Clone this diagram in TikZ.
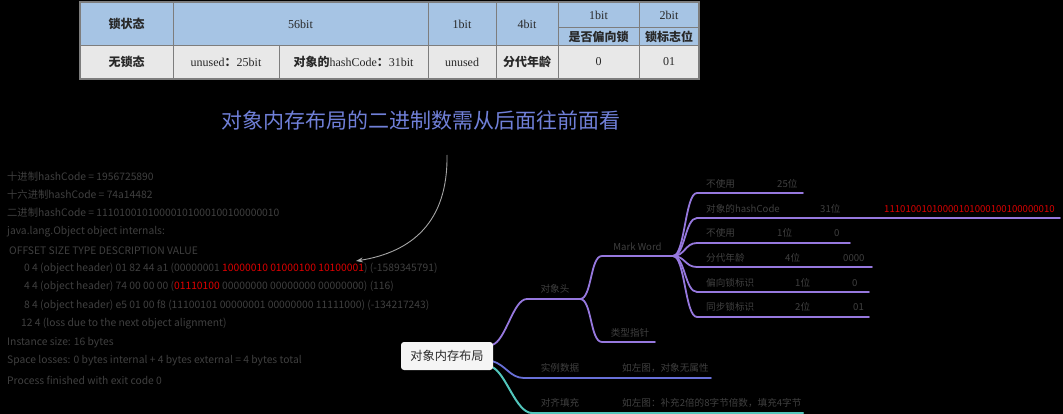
\documentclass[tikz,border=0pt]{standalone}
\usepackage{fontspec}
\setmainfont{Noto Sans CJK SC}
\newfontfamily\tser{Liberation Serif}
\usetikzlibrary{arrows.meta}
\definecolor{hdr}{RGB}{166,196,228}
\definecolor{rowbg}{RGB}{232,232,232}
\definecolor{tline}{RGB}{125,125,125}
\definecolor{ttext}{RGB}{40,40,40}
\definecolor{dimtext}{RGB}{64,64,64}
\definecolor{redt}{RGB}{222,0,0}
\definecolor{titleblue}{RGB}{112,128,216}
\definecolor{lilac}{RGB}{150,120,222}
\definecolor{bluebr}{RGB}{104,112,216}
\definecolor{tealbr}{RGB}{82,198,188}
\definecolor{arrowgray}{RGB}{165,165,165}
\tikzset{
  thd/.style={inner sep=0pt, text=ttext, font=\fontsize{12}{12}\selectfont\bfseries},
  tser/.style={inner sep=0pt, text=ttext, font=\fontsize{12}{12}\selectfont\tser},
  lt/.style={inner sep=0pt, anchor=west, text=dimtext, font=\fontsize{10.3}{11}\selectfont},
  ml/.style={inner sep=0pt, text=dimtext, font=\fontsize{9.6}{10}\selectfont},
  mlw/.style={ml, anchor=west},
  brl/.style={line width=1.8pt, lilac, line cap=round},
  brb/.style={line width=1.8pt, bluebr, line cap=round},
  brt/.style={line width=2pt, tealbr, line cap=round},
}
\begin{document}
\begin{tikzpicture}[x=1pt,y=-1pt]
\fill[black] (0,0) rectangle (1063,414);
\useasboundingbox (0,0) rectangle (1063,414);
% ---------- table ----------
\fill[hdr] (80,2) rectangle (699,45);
\fill[rowbg] (80,45) rectangle (699,79);
\draw[tline, line width=0.8pt] (80,45) -- (699,45);
\draw[tline, line width=0.8pt] (558,27) -- (699,27);
\foreach \xx in {173,428,496,558,639} \draw[tline, line width=0.8pt] (\xx,2) -- (\xx,79);
\draw[tline, line width=0.8pt] (279,45) -- (279,79);
\draw[tline, line width=1.4pt] (80,2) rectangle (699,79);
\node[thd] (h1) at (126.5,24) {锁状态};
\node[tser] (h2) at (300.5,24) {56bit};
\node[tser] (h3) at (462,24) {1bit};
\node[tser] (h4) at (527,24) {4bit};
\node[tser] (h5) at (598.5,15) {1bit};
\node[tser] (h6) at (669,15) {2bit};
\node[thd] (h7) at (598.5,36.5) {是否偏向锁};
\node[thd] (h8) at (669,36.5) {锁标志位};
\node[thd] (d1) at (126.5,62) {无锁态};
\node[tser] (d2) at (226,62) {unused{\normalfont\bfseries ：}25bit};
\node[tser] (d3) at (353.5,62) {{\normalfont\bfseries 对象的}hashCode{\normalfont\bfseries ：}31bit};
\node[tser] (d4) at (462,62) {unused};
\node[thd] (d5) at (527,62) {分代年龄};
\node[tser] (d6) at (598.5,62) {0};
\node[tser] (d7) at (669,62) {01};
% ---------- title ----------
\node[inner sep=0pt, text=titleblue, font=\fontsize{21}{22}\selectfont] (title) at (421,121) {对象内存布局的二进制数需从后面往前面看};
% ---------- left text ----------
\node[lt] (l1) at (7,177) {十进制hashCode = 1956725890};
\node[lt] (l2) at (7,195) {十六进制hashCode = 74a14482};
\node[lt] (l3) at (7,213) {二进制hashCode = 11101001010000101000100100000010};
\node[lt] (l4) at (7,232) {java.lang.Object object internals:};
\node[lt] (l5) at (9,251) {OFFSET SIZE TYPE DESCRIPTION VALUE};
\node[lt] (l6) at (24,269) {0 4 (object header) 01 82 44 a1 (00000001 \textcolor{redt}{10000010 01000100 10100001}) (-1589345791)};
\node[lt] (l7) at (24,287) {4 4 (object header) 74 00 00 00 (\textcolor{redt}{01110100} 00000000 00000000 00000000) (116)};
\node[lt] (l8) at (24,306) {8 4 (object header) e5 01 00 f8 (11100101 00000001 00000000 11111000) (-134217243)};
\node[lt] (l9) at (21,324) {12 4 (loss due to the next object alignment)};
\node[lt] (l10) at (7,343) {Instance size: 16 bytes};
\node[lt] (l11) at (7,361) {Space losses: 0 bytes internal + 4 bytes external = 4 bytes total};
\node[lt] (l12) at (7,380) {Process finished with exit code 0};
% ---------- arrow ----------
\coordinate (arS) at (447,155);
\coordinate (arE) at (356,261);
\draw[arrowgray, line width=0.9pt, -{Stealth[length=7pt,width=5pt]}] (arS) .. controls (448,222) and (412,252) .. (arE);
% ---------- mind map ----------
\coordinate (r1) at (492,345);
\coordinate (r2) at (492,361);
\coordinate (r3) at (492,367);
\coordinate (oh1) at (527,299);
\coordinate (oh2) at (580,299);
\coordinate (mw1) at (602,256);
\coordinate (mw2) at (673,256);
\coordinate (tp1) at (602,342);
\coordinate (tp2) at (655,342);
\coordinate (sl1) at (524,378);
\coordinate (sl2) at (711,378);
\coordinate (dq1) at (532,413);
\coordinate (dq2) at (803,413);
\draw[brl] (r1) .. controls +(14,-4) and +(-14,0) .. (oh1) -- (oh2);
\draw[brl] (oh2) .. controls +(12,0) and +(-12,0) .. (mw1) -- (mw2);
\draw[brl] (oh2) .. controls +(12,0) and +(-12,0) .. (tp1) -- (tp2);
\draw[brb] (r2) .. controls +(14,4) and +(-14,0) .. (sl1) -- (sl2);
\draw[brt] (r3) .. controls +(14,6) and +(-16,0) .. (dq1) -- (dq2);
% Mark Word children
\foreach \i/\yy/\xe in {1/193/803, 2/218/1060, 3/243/850, 4/267/872, 5/292/869, 6/317/869} {
  \coordinate (c\i s) at (697,\yy);
  \coordinate (c\i e) at (\xe,\yy);
  \draw[brl] (mw2) .. controls +(12,0) and +(-12,0) .. (c\i s) -- (c\i e);
}
\node[draw=none, fill=white!96!black, rounded corners=3pt, minimum width=92pt, minimum height=28pt, inner sep=0pt, text=ttext, font=\fontsize{12.2}{13}\selectfont] (root) at (447,356) {对象内存布局};
\node[ml] (oh) at (555,289) {对象头};
\node[ml] (mw) at (637.5,246.5) {Mark Word};
\node[ml] (tp) at (630,333) {类型指针};
\node[ml] (sl) at (560,368) {实例数据};
\node[mlw] (slv) at (622,368) {如左图，对象无属性};
\node[ml] (dq) at (560,403) {对齐填充};
\node[mlw] (dqv) at (622,403) {如左图：补充2倍的8字节倍数，填充4字节};
\node[mlw] (a1) at (706,184) {不使用};
\node[mlw] (a2) at (777,184) {25位};
\node[mlw] (b1) at (706,209) {对象的hashCode};
\node[mlw] (b2) at (820,209) {31位};
\node[mlw, text=redt] (b3) at (884,209) {11101001010000101000100100000010};
\node[mlw] (e1) at (706,233) {不使用};
\node[mlw] (e2) at (777,233) {1位};
\node[mlw] (e3) at (834,233) {0};
\node[mlw] (f1) at (706,258) {分代年龄};
\node[mlw] (f2) at (785,258) {4位};
\node[mlw] (f3) at (843,258) {0000};
\node[mlw] (g1) at (706,283) {偏向锁标识};
\node[mlw] (g2) at (795,283) {1位};
\node[mlw] (g3) at (852,283) {0};
\node[mlw] (k1) at (706,307) {同步锁标识};
\node[mlw] (k2) at (795,307) {2位};
\node[mlw] (k3) at (853,307) {01};
\end{tikzpicture}
\end{document}
